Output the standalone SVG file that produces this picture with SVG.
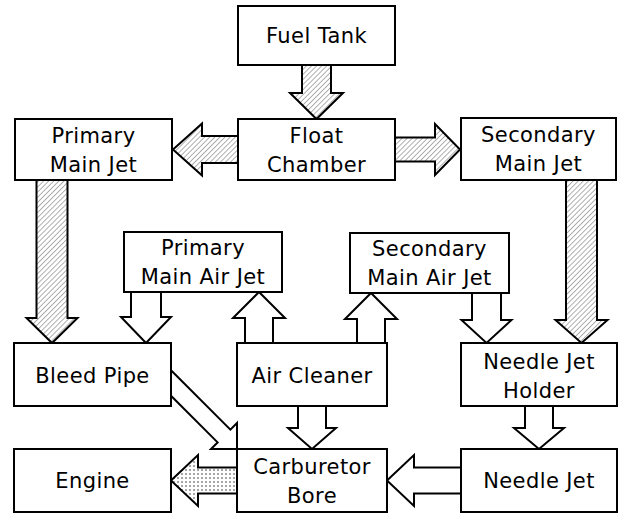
<svg xmlns="http://www.w3.org/2000/svg" width="622" height="521" viewBox="0 0 622 521">
<defs>
<pattern id="hatch" patternUnits="userSpaceOnUse" width="3.6" height="4" patternTransform="rotate(45)">
<rect width="3.6" height="4" fill="#fff"/>
<line x1="0" y1="0" x2="0" y2="4" stroke="#444" stroke-width="0.9"/>
</pattern>
<pattern id="dots" patternUnits="userSpaceOnUse" width="4" height="4">
<rect width="4" height="4" fill="#fff"/>
<circle cx="2" cy="2" r="0.75" fill="#222"/>
</pattern>
<style>
.box{fill:#fff;stroke:#000;stroke-width:2}
.t{font-family:"DejaVu Sans","Liberation Sans",sans-serif;font-size:21px;letter-spacing:0.4px;fill:#000;text-anchor:middle}
.ar{stroke:#000;stroke-width:2;stroke-linejoin:miter}
.h{fill:url(#hatch)}
.w{fill:#fff}
.d{fill:url(#dots)}
</style>
</defs>
<rect width="622" height="521" fill="#fff"/>
<g id="connectors">
<polygon class="ar h" points="302,65 302,93 290,93 316.5,119 343,93 331,93 331,65"/>
<polygon class="ar h" points="238,136 202,136 202,123.5 173,149.5 202,175.5 202,163 238,163"/>
<polygon class="ar h" points="395,137.5 435,137.5 435,124 460,149.5 435,175 435,161.5 395,161.5"/>
<polygon class="ar h" points="36.5,180 36.5,318 26.5,318 52,343 77.5,318 67.5,318 67.5,180"/>
<polygon class="ar h" points="566,180 566,320 555.5,320 581.5,343 607.5,320 597,320 597,180"/>
<polygon class="ar w" points="131,292 131,317 121,317 146,343 171,317 161,317 161,292"/>
<polygon class="ar w" points="245,343 245,318 233,318 259,292 285,318 273,318 273,343"/>
<polygon class="ar w" points="357,343 357,319 345,319 371,293 397,319 385,319 385,343"/>
<polygon class="ar w" points="472,293 472,320 461.5,320 486.5,343 511.5,320 501,320 501,293"/>
<polygon class="ar w" points="171,370.2 230.4,429.6 237,423 237,449 211,449 217.6,442.4 171,395.8"/>
<polygon class="ar w" points="298,406 298,428 288,428 312,449 336,428 326,428 326,406"/>
<polygon class="ar w" points="525,406 525,428 514,428 539,449 564,428 553,428 553,406"/>
<polygon class="ar d" points="237,467.5 198,467.5 198,455 171,480.5 198,506 198,493.5 237,493.5"/>
<polygon class="ar w" points="461,467.5 414,467.5 414,455 387,480.5 414,506 414,493.5 461,493.5"/>
</g>
<g id="fuel-tank"><rect class="box" x="238" y="6" width="157" height="59"/><text class="t" x="316.5" y="43">Fuel Tank</text></g>
<g id="float-chamber"><rect class="box" x="238" y="119" width="157" height="61"/><text class="t" x="316.5" y="142.5">Float</text><text class="t" x="316.5" y="171.5">Chamber</text></g>
<g id="primary-main-jet"><rect class="box" x="15" y="119" width="157" height="61"/><text class="t" x="93.5" y="142.5">Primary</text><text class="t" x="93.5" y="171.5">Main Jet</text></g>
<g id="secondary-main-jet"><rect class="box" x="461" y="118" width="155" height="62"/><text class="t" x="538.5" y="142">Secondary</text><text class="t" x="538.5" y="171">Main Jet</text></g>
<g id="primary-main-air-jet"><rect class="box" x="124" y="232" width="158" height="60"/><text class="t" x="203" y="255">Primary</text><text class="t" x="203" y="284">Main Air Jet</text></g>
<g id="secondary-main-air-jet"><rect class="box" x="350" y="233" width="159" height="60"/><text class="t" x="429.5" y="256">Secondary</text><text class="t" x="429.5" y="285">Main Air Jet</text></g>
<g id="bleed-pipe"><rect class="box" x="14" y="343" width="157" height="63"/><text class="t" x="92.5" y="383">Bleed Pipe</text></g>
<g id="air-cleaner"><rect class="box" x="237" y="343" width="150" height="63"/><text class="t" x="312" y="383">Air Cleaner</text></g>
<g id="needle-jet-holder"><rect class="box" x="461" y="343" width="156" height="63"/><text class="t" x="539" y="368.5">Needle Jet</text><text class="t" x="539" y="397.5">Holder</text></g>
<g id="engine"><rect class="box" x="14" y="449" width="157" height="63"/><text class="t" x="92.5" y="488">Engine</text></g>
<g id="carburetor-bore"><rect class="box" x="237" y="449" width="150" height="63"/><text class="t" x="312" y="473.5">Carburetor</text><text class="t" x="312" y="502.5">Bore</text></g>
<g id="needle-jet"><rect class="box" x="461" y="449" width="156" height="63"/><text class="t" x="539" y="488">Needle Jet</text></g>
</svg>
